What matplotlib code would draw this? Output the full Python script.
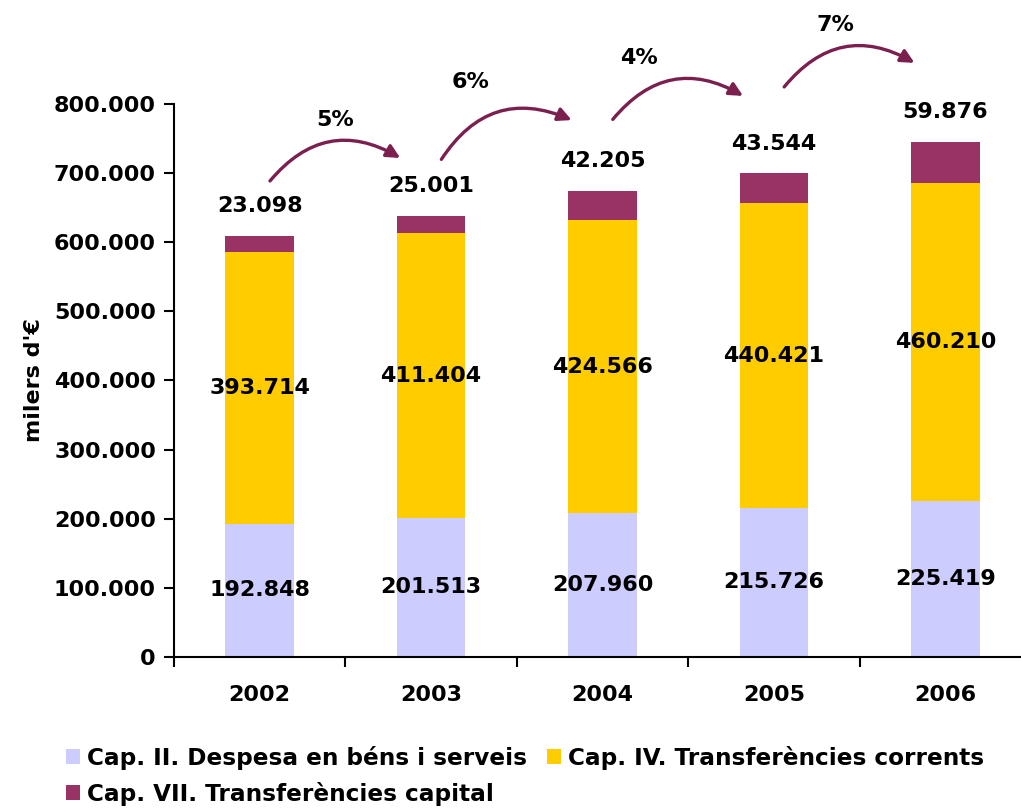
import matplotlib
matplotlib.use("Agg")
import matplotlib.pyplot as plt
import numpy as np

years = ["2002", "2003", "2004", "2005", "2006"]
cap_ii = [192848, 201513, 207960, 215726, 225419]
cap_iv = [393714, 411404, 424566, 440421, 460210]
cap_vii = [23098, 25001, 42205, 43544, 59876]
growth_labels = ["5%", "6%", "4%", "7%"]
series_names = ["Cap. II. Despesa en béns i serveis",
                "Cap. IV. Transferències corrents",
                "Cap. VII. Transferències capital"]
yticks = [0, 100000, 200000, 300000, 400000, 500000, 600000, 700000, 800000]

colors = ["#CCCCFF", "#FFCC00", "#993366"]
arrow_color = "#7A1F4E"

def fmt(v):
    return f"{v:,}".replace(",", ".")

W, H = 1021, 808
fig = plt.figure(figsize=(W / 100, H / 100), dpi=100)
ax_left, ax_bottom, ax_w, ax_h = 174, 151, 857, 553
ax = fig.add_axes([ax_left / W, ax_bottom / H, ax_w / W, ax_h / H])

x = np.arange(len(years))
a = np.array(cap_ii)
b = np.array(cap_iv)
c = np.array(cap_vii)
bw = 0.4
h0 = ax.bar(x, a, bw, color=colors[0], label=series_names[0])
h1 = ax.bar(x, b, bw, bottom=a, color=colors[1], label=series_names[1])
h2 = ax.bar(x, c, bw, bottom=a + b, color=colors[2], label=series_names[2])

ax.set_xlim(-0.5, len(years) - 0.5)
ax.set_ylim(0, 800000)

fs = 16
for i in range(len(years)):
    ax.text(x[i], a[i] / 2, fmt(cap_ii[i]), ha="center", va="center",
            fontsize=fs, fontweight="bold")
    ax.text(x[i], a[i] + b[i] / 2, fmt(cap_iv[i]), ha="center", va="center",
            fontsize=fs, fontweight="bold")
    ax.text(x[i], a[i] + b[i] + c[i] + 43000, fmt(cap_vii[i]), ha="center",
            va="center", fontsize=fs, fontweight="bold")

totals = a + b + c
start_lift = [79000, 82000, 103000, 125000]
end_lift = [84000, 102000, 112000, 114000]
label_dx = [0.44, 0.23, 0.21, 0.36]
for i in range(len(years) - 1):
    sx, sy = x[i] + 0.06, totals[i] + start_lift[i]
    ex, ey = x[i] + 0.82, totals[i + 1] + end_lift[i]
    ax.annotate("", xy=(ex, ey), xytext=(sx, sy), annotation_clip=False,
                arrowprops=dict(arrowstyle="-|>,head_length=0.8,head_width=0.4",
                                color=arrow_color, lw=2.4,
                                connectionstyle="arc3,rad=-0.42",
                                shrinkA=0, shrinkB=0))
    ax.text(x[i] + label_dx[i], max(sy, ey) + 55000, growth_labels[i],
            ha="center", va="center", fontsize=fs, fontweight="bold",
            clip_on=False)

ax.set_yticks(yticks)
ax.set_yticklabels([fmt(v) for v in yticks], fontsize=fs, fontweight="bold")
ax.set_xticks(x)
ax.set_xticklabels(years, fontsize=fs, fontweight="bold")
ax.tick_params(axis="x", length=0, pad=20)
ax.set_xticks(np.arange(-0.5, len(years), 1), minor=True)
ax.tick_params(axis="x", which="minor", length=7, width=1.5, direction="out")
ax.tick_params(axis="y", length=7, width=1.5, direction="out", pad=6)
for s in ["top", "right"]:
    ax.spines[s].set_visible(False)
ax.spines["left"].set_linewidth(1.5)
ax.spines["bottom"].set_linewidth(1.5)
ax.set_ylabel("milers d'€", fontsize=fs, fontweight="bold", labelpad=7)

handles = [h0, h2, h1]
labels = [series_names[0], series_names[2], series_names[1]]
leg = fig.legend(handles, labels, loc="upper left",
                 bbox_to_anchor=(66 / W, 1 - 746 / H),
                 ncol=2, frameon=False, handlelength=0.62, handleheight=0.62,
                 handletextpad=0.3, columnspacing=0.85, labelspacing=0.5,
                 borderaxespad=0, borderpad=0,
                 prop=dict(family="DejaVu Sans", weight="bold", size=16.7))

fig.savefig("out.png", dpi=100)
